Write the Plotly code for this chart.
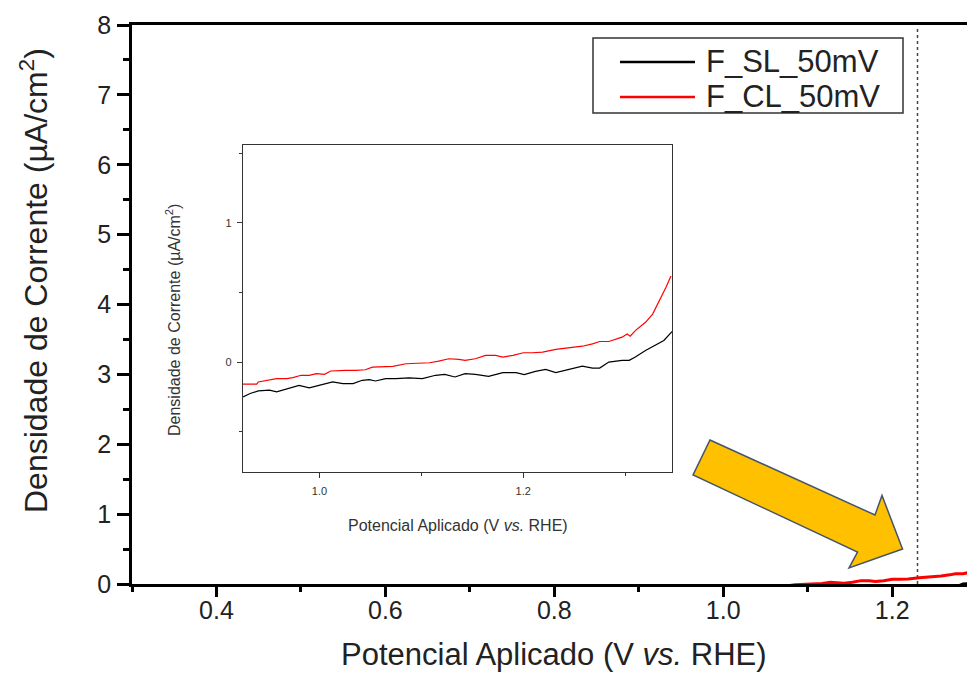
import plotly.graph_objects as go

# Applied potential (V vs. RHE) and current density (µA/cm²), sample F_SL_50mV
potential_sl = [0.925, 0.932, 0.940, 0.951, 0.958, 0.964, 0.974, 0.980, 0.990, 1.000,
                1.013, 1.023, 1.033, 1.042, 1.049, 1.055, 1.065, 1.075, 1.088, 1.101,
                1.114, 1.123, 1.133, 1.143, 1.153, 1.166, 1.180, 1.193, 1.201, 1.212,
                1.222, 1.232, 1.245, 1.258, 1.268, 1.275, 1.284, 1.297, 1.304, 1.310,
                1.320, 1.330, 1.338, 1.346]
current_sl = [-0.250, -0.226, -0.207, -0.202, -0.214, -0.202, -0.179, -0.167, -0.185, -0.167,
              -0.143, -0.155, -0.155, -0.131, -0.126, -0.136, -0.119, -0.119, -0.114, -0.119,
              -0.095, -0.088, -0.107, -0.083, -0.088, -0.102, -0.076, -0.076, -0.090, -0.067,
              -0.052, -0.076, -0.052, -0.029, -0.043, -0.043, 0.000, 0.012, 0.012, 0.036,
              0.083, 0.124, 0.155, 0.219]

# Applied potential (V vs. RHE) and current density (µA/cm²), sample F_CL_50mV
potential_cl = [0.925, 0.9385, 0.940, 0.945, 0.951, 0.958, 0.968, 0.974, 0.982, 0.990,
                0.997, 1.005, 1.011, 1.019, 1.026, 1.036, 1.045, 1.052, 1.062, 1.072,
                1.085, 1.098, 1.108, 1.117, 1.127, 1.137, 1.143, 1.153, 1.163, 1.173,
                1.180, 1.190, 1.200, 1.209, 1.219, 1.232, 1.245, 1.258, 1.268, 1.275,
                1.284, 1.291, 1.297, 1.302, 1.305, 1.310, 1.320, 1.327, 1.333, 1.340,
                1.345]
current_cl = [-0.159, -0.159, -0.143, -0.136, -0.126, -0.119, -0.119, -0.112, -0.095, -0.095,
              -0.083, -0.088, -0.064, -0.060, -0.060, -0.060, -0.055, -0.036, -0.031, -0.031,
              -0.012, -0.005, -0.005, 0.007, 0.024, 0.019, 0.012, 0.024, 0.048, 0.048,
              0.036, 0.048, 0.067, 0.067, 0.071, 0.091, 0.100, 0.114, 0.131, 0.148,
              0.148, 0.162, 0.179, 0.202, 0.186, 0.226, 0.286, 0.345, 0.429, 0.536,
              0.619]

series_names = ["F_SL_50mV", "F_CL_50mV"]
series_colors = ["#000000", "#ff0000"]
series_x = [potential_sl, potential_cl]
series_y = [current_sl, current_cl]

water_oxidation_potential = 1.23

main_x_range = [0.3, 1.2886]
main_y_range = [0, 8]
inset_x_range = [0.925, 1.346]
inset_y_range = [-0.79, 1.56]

FONT = "Liberation Sans, Arial, sans-serif"
TEXT = "#222222"
INSET_TEXT = "#333333"

W, H = 967, 673
ML, MR, MT, MB = 132, 0, 25, 89
PW, PH = W - ML - MR, H - MT - MB


def px(xp):
    return (xp - ML) / PW


def py(yp):
    return (H - MB - yp) / PH


fig = go.Figure()

# main panel curves
for name, color, xs, ys in zip(series_names, series_colors, series_x, series_y):
    fig.add_trace(go.Scatter(x=xs, y=ys, mode="lines", name=name,
                             line=dict(color=color, width=3),
                             xaxis="x", yaxis="y", showlegend=False))

# inset curves
for name, color, xs, ys in zip(series_names, series_colors, series_x, series_y):
    fig.add_trace(go.Scatter(x=xs, y=ys, mode="lines", name=name,
                             line=dict(color=color, width=1.2),
                             xaxis="x2", yaxis="y2", showlegend=False))

shapes = []

# dotted marker at 1.23 V
shapes.append(dict(type="line", xref="x", yref="paper",
                   x0=water_oxidation_potential, x1=water_oxidation_potential,
                   y0=0, y1=0.995, line=dict(color="#444444", width=1.5, dash="dot"),
                   layer="above"))

# block arrow pointing at the onset region
arrow_pts = [(710, 440), (875, 515), (882, 495.5), (902.5, 549),
             (849, 568), (857.5, 552), (693, 475)]
path = "M " + " L ".join(f"{px(a):.4f},{py(b):.4f}" for a, b in arrow_pts) + " Z"
shapes.append(dict(type="path", xref="paper", yref="paper", path=path,
                   fillcolor="#ffc000", line=dict(color="#44546a", width=1.5),
                   layer="above"))

# legend box
box = (593, 38, 903, 113)
shapes.append(dict(type="rect", xref="paper", yref="paper",
                   x0=px(box[0]), x1=px(box[2]), y0=py(box[3]), y1=py(box[1]),
                   line=dict(color="#333333", width=1.5), fillcolor="white",
                   layer="above"))

annotations = []
row_y = [62, 97]
for name, color, yy in zip(series_names, series_colors, row_y):
    shapes.append(dict(type="line", xref="paper", yref="paper",
                       x0=px(620), x1=px(695), y0=py(yy), y1=py(yy),
                       line=dict(color=color, width=2.5), layer="above"))
    annotations.append(dict(text=name, xref="paper", yref="paper",
                            x=px(704), y=py(yy), xanchor="left", yanchor="middle",
                            showarrow=False, font=dict(family=FONT, size=31, color=TEXT)))

# axis titles
annotations.append(dict(text="Potencial Aplicado (V <i>vs.</i> RHE)", xref="paper", yref="paper",
                        x=px(554), y=py(654), xanchor="center", yanchor="middle",
                        showarrow=False, font=dict(family=FONT, size=31, color=TEXT)))
annotations.append(dict(text="Densidade de Corrente (µA/cm<sup>2</sup>)", xref="paper", yref="paper",
                        x=px(34), y=py(281), xanchor="center", yanchor="middle", textangle=-90,
                        showarrow=False, font=dict(family=FONT, size=32, color=TEXT)))
annotations.append(dict(text="Potencial Aplicado (V <i>vs.</i> RHE)", xref="paper", yref="paper",
                        x=px(458), y=py(525), xanchor="center", yanchor="middle",
                        showarrow=False, font=dict(family=FONT, size=16, color=INSET_TEXT)))
annotations.append(dict(text="Densidade de Corrente (µA/cm<sup>2</sup>)", xref="paper", yref="paper",
                        x=px(173), y=py(320), xanchor="center", yanchor="middle", textangle=-90,
                        showarrow=False, font=dict(family=FONT, size=16, color=INSET_TEXT)))

fig.update_layout(
    width=W, height=H, autosize=False,
    margin=dict(l=ML, r=MR, t=MT, b=MB, pad=0),
    paper_bgcolor="white", plot_bgcolor="white",
    showlegend=False,
    shapes=shapes, annotations=annotations,
    xaxis=dict(range=main_x_range, domain=[0, 1], anchor="y",
               tick0=0.4, dtick=0.2, tickformat=".1f",
               ticks="outside", ticklen=10, tickwidth=2.5, tickcolor="black",
               showline=True, linewidth=2.5, linecolor="black", mirror=True,
               showgrid=False, zeroline=False, ticklabelstandoff=-8,
               tickfont=dict(family=FONT, size=25, color=TEXT),
               minor=dict(dtick=0.1, tick0=0.3, ticks="outside", ticklen=5,
                          tickwidth=2.5, tickcolor="black", showgrid=False)),
    yaxis=dict(range=main_y_range, domain=[0, 1], anchor="x",
               dtick=1, ticks="outside", ticklen=12, tickwidth=2.5, tickcolor="black",
               showline=True, linewidth=2.5, linecolor="black", mirror=False,
               showgrid=False, zeroline=False, ticklabelstandoff=1,
               tickfont=dict(family=FONT, size=25, color=TEXT),
               minor=dict(dtick=0.5, ticks="outside", ticklen=6,
                          tickwidth=2.5, tickcolor="black", showgrid=False)),
    xaxis2=dict(range=inset_x_range, domain=[px(243), px(672)], anchor="y2",
                tick0=1.0, dtick=0.2, tickformat=".1f",
                ticks="outside", ticklen=5, tickwidth=1, tickcolor=INSET_TEXT,
                showline=True, linewidth=1.2, linecolor=INSET_TEXT, mirror=True,
                showgrid=False, zeroline=False, ticklabelstandoff=4,
                tickfont=dict(family=FONT, size=11, color=INSET_TEXT),
                minor=dict(dtick=0.1, tick0=1.0, ticks="outside", ticklen=3,
                           tickwidth=1, tickcolor=INSET_TEXT, showgrid=False)),
    yaxis2=dict(range=inset_y_range, domain=[py(472), py(145)], anchor="x2",
                dtick=1, ticks="outside", ticklen=5, tickwidth=1, tickcolor=INSET_TEXT,
                showline=True, linewidth=1.2, linecolor=INSET_TEXT, mirror=True,
                showgrid=False, zeroline=False, ticklabelstandoff=3,
                tickfont=dict(family=FONT, size=11, color=INSET_TEXT),
                minor=dict(dtick=0.5, ticks="outside", ticklen=3,
                           tickwidth=1, tickcolor=INSET_TEXT, showgrid=False)),
)

fig.write_html("out.html")
